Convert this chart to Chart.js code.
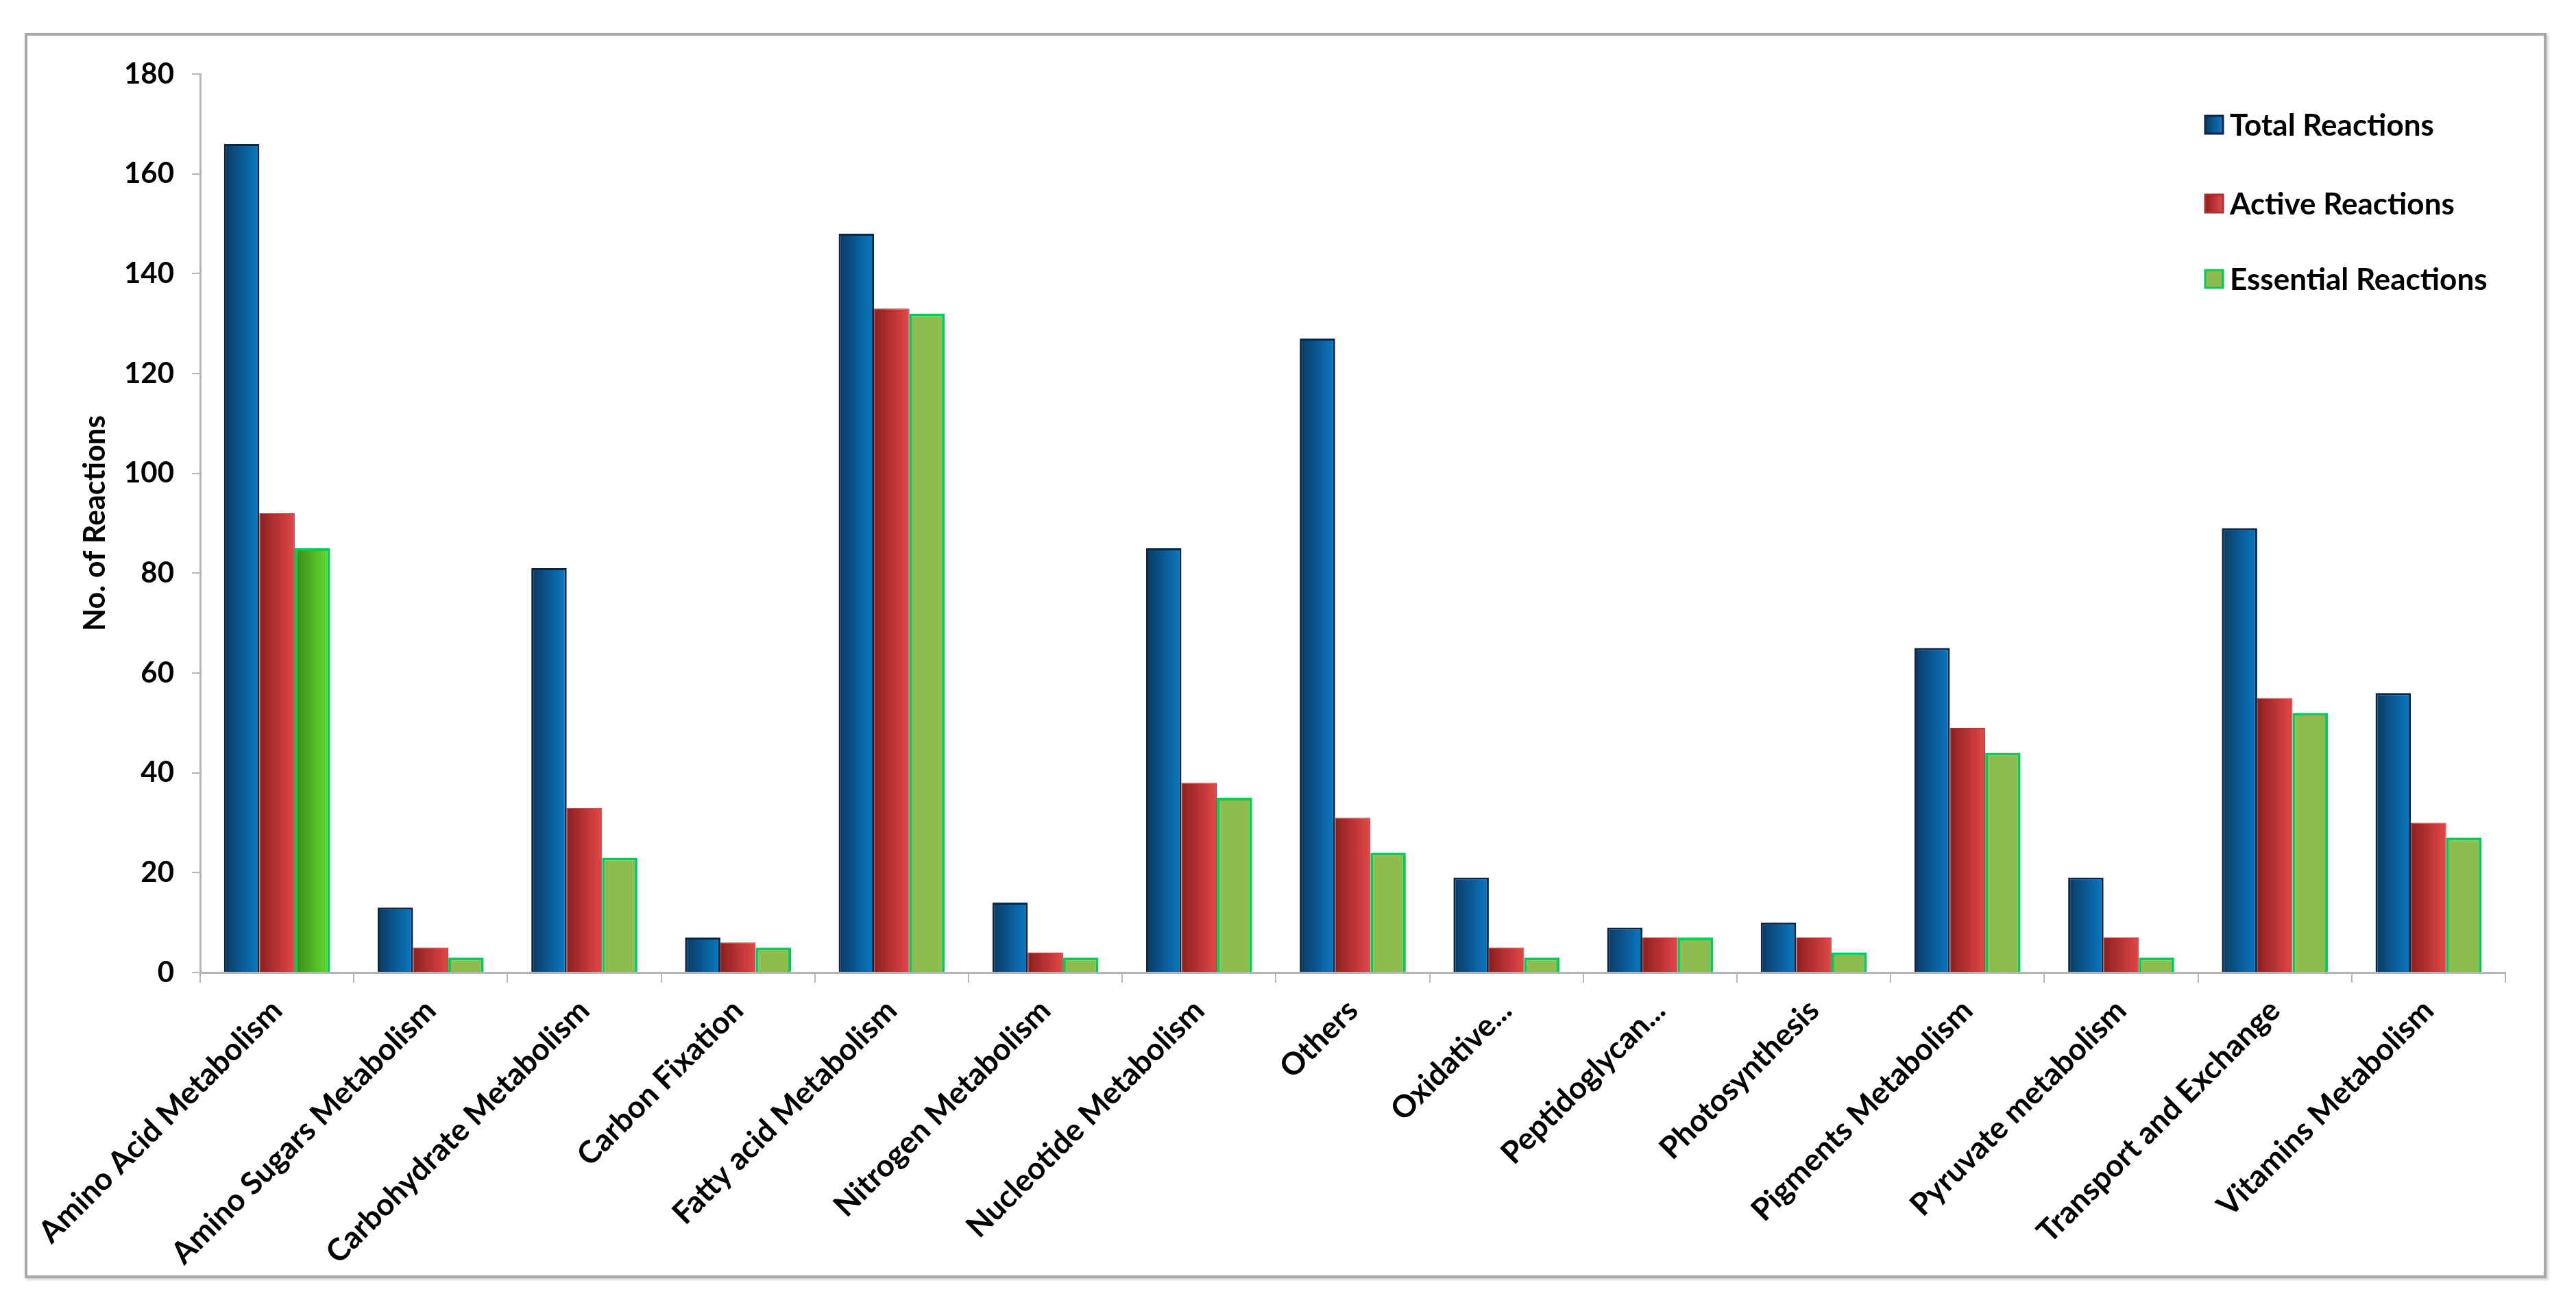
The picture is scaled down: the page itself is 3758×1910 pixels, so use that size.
<!DOCTYPE html>
<html>
<head>
<meta charset="utf-8">
<script src="https://cdn.jsdelivr.net/npm/chart.js@4.4.1/dist/chart.umd.min.js"></script>
<style>
    body { margin: 0; background: #fff; }
    #frame {
        position: absolute; left: 36px; top: 48px;
        width: 3671px; height: 1809px;
        border: 4px solid #a8a8a8;
        box-shadow: 2px 2px 4px #c8c8c8;
        background: #fff;
    }
    canvas { display: block; }
</style>
</head>
<body>
<div id="frame"><canvas id="reactionsChart" width="3671" height="1809"></canvas></div>
<script>
const categories = [
    'Amino Acid Metabolism', 'Amino Sugars Metabolism', 'Carbohydrate Metabolism',
    'Carbon Fixation', 'Fatty acid Metabolism', 'Nitrogen Metabolism',
    'Nucleotide Metabolism', 'Others', 'Oxidative...', 'Peptidoglycan...',
    'Photosynthesis', 'Pigments Metabolism', 'Pyruvate metabolism',
    'Transport and Exchange', 'Vitamins Metabolism'
];
const seriesNames = ['Total Reactions', 'Active Reactions', 'Essential Reactions'];
const totalReactions = [166, 13, 81, 7, 148, 14, 85, 127, 19, 9, 10, 65, 19, 89, 56];
const activeReactions = [92, 5, 33, 6, 133, 4, 38, 31, 5, 7, 7, 49, 7, 55, 30];
const essentialReactions = [85, 3, 23, 5, 132, 3, 35, 24, 3, 7, 4, 44, 3, 52, 27];
const yMin = 0, yMax = 180, yStep = 20;

const FONT = 'Lato, "Open Sans", sans-serif';

// left-to-right shading for each series (dark edge, light edge)
const shades = [
    ['#0b3962', '#0a7ac4'],
    ['#8c1f1f', '#e24848'],
    ['#8fbc4f', '#8fbc4f']
];
const firstGreen = ['#3b8a18', '#66dd30'];

// swap flat colours for horizontal gradients right before bars are drawn
const gradientBars = {
    id: 'gradientBars',
    beforeDatasetsDraw(chart) {
        const ctx = chart.ctx;
        chart.data.datasets.forEach((ds, di) => {
            chart.getDatasetMeta(di).data.forEach((bar, i) => {
                const { x, width } = bar.getProps(['x', 'width'], true);
                let pair = shades[di];
                if (di === 2 && i === 0) pair = firstGreen;
                const g = ctx.createLinearGradient(x - width / 2, 0, x + width / 2, 0);
                g.addColorStop(0, pair[0]);
                g.addColorStop(1, pair[1]);
                bar.options.backgroundColor = g;
            });
        });
    }
};

// legend drawn at upper right inside the plot, stacked vertically
const sideLegend = {
    id: 'sideLegend',
    afterDraw(chart) {
        const ctx = chart.ctx;
        const x0 = 3177, rows = [130, 245, 355], box = 26;
        ctx.save();
        ctx.font = 'bold 44px ' + FONT;
        ctx.textBaseline = 'middle';
        chart.data.datasets.forEach((ds, di) => {
            const y = rows[di];
            const g = ctx.createLinearGradient(x0, 0, x0 + box, 0);
            g.addColorStop(0, shades[di][0]);
            g.addColorStop(1, shades[di][1]);
            ctx.fillStyle = g;
            ctx.fillRect(x0, y - box / 2, box, box);
            ctx.lineWidth = 3;
            ctx.strokeStyle = ds.borderColor;
            ctx.strokeRect(x0, y - box / 2, box, box);
            ctx.fillStyle = '#000';
            ctx.fillText(ds.label, x0 + box + 10, y + 2);
        });
        ctx.restore();
    }
};

new Chart(document.getElementById('reactionsChart'), {
    type: 'bar',
    data: {
        labels: categories,
        datasets: [
            { label: seriesNames[0], data: totalReactions, backgroundColor: () => shades[0][1], borderColor: '#0a2644', borderWidth: 3 },
            { label: seriesNames[1], data: activeReactions, backgroundColor: () => shades[1][1], borderColor: '#a83030', borderWidth: 1 },
            { label: seriesNames[2], data: essentialReactions, backgroundColor: () => shades[2][1], borderColor: '#00cc5a', borderWidth: 4 }
        ]
    },
    options: {
        responsive: false,
        animation: false,
        devicePixelRatio: 1,
        layout: { padding: { left: 69, top: 56, right: 56, bottom: 0 } },
        datasets: { bar: { categoryPercentage: 0.69, barPercentage: 1 } },
        plugins: {
            legend: { display: false },
            tooltip: { enabled: false }
        },
        scales: {
            x: {
                grid: { display: true, drawOnChartArea: false, offset: true, tickLength: 15, color: '#b5b5b5', lineWidth: 2 },
                border: { color: '#b5b5b5', width: 3 },
                ticks: {
                    autoSkip: false, minRotation: 45, maxRotation: 45, padding: 14,
                    color: '#000',
                    font: { family: FONT, size: 45, weight: 'bold' }
                },
                afterFit(scale) { scale.height = 442; }
            },
            y: {
                min: yMin, max: yMax,
                grid: { display: true, drawOnChartArea: false, tickLength: 12, color: '#b5b5b5', lineWidth: 2 },
                border: { color: '#b5b5b5', width: 3 },
                ticks: {
                    stepSize: yStep, padding: 26, color: '#000',
                    font: { family: FONT, size: 42, weight: 'bold' }
                },
                title: {
                    display: true, text: 'No. of Reactions', color: '#000',
                    font: { family: FONT, size: 43, weight: 'bold' }, padding: 4
                },
                afterFit(scale) { scale.width = 183; }
            }
        }
    },
    plugins: [gradientBars, sideLegend]
});
</script>
</body>
</html>
